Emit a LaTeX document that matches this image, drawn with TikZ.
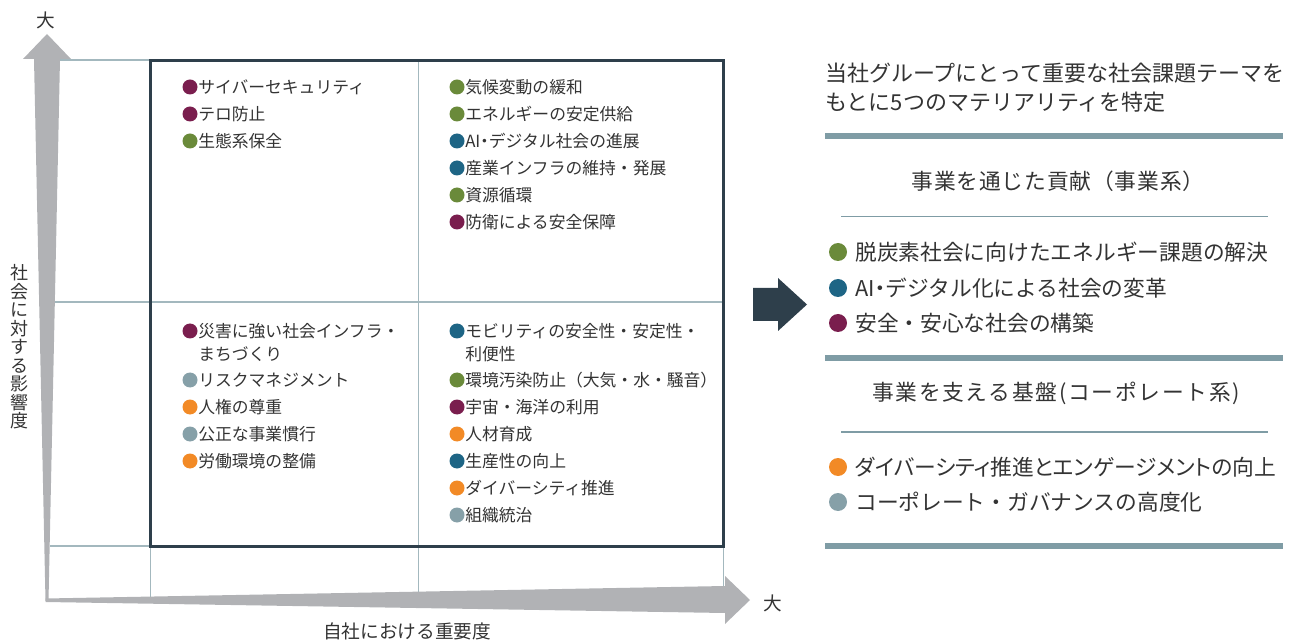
\documentclass[tikz,border=0pt]{standalone}
\usepackage{fontspec}
\setmainfont{Noto Sans CJK JP}
\newfontfamily\paltfont{Noto Sans CJK JP}[RawFeature=+palt]
\definecolor{txt}{HTML}{333333}
\definecolor{arrowgray}{HTML}{B1B2B5}
\definecolor{gridc}{HTML}{A3B8BE}
\definecolor{boxdark}{HTML}{2E3F4B}
\definecolor{cpurple}{HTML}{7A1E4E}
\definecolor{cgreen}{HTML}{6A8A3A}
\definecolor{cblue}{HTML}{1E6585}
\definecolor{corange}{HTML}{F28A26}
\definecolor{cgrayblue}{HTML}{86A0A8}
\definecolor{rulec}{HTML}{7F9CA5}
\newcommand\qitm[5]{%
  \node[qdot,fill=#4] (#1dot) at (#2-8,#3) {};
  \node[qtext] (#1) at (#2,#3) {#5};}
\newcommand\pitm[5]{%
  \node[pdot,fill=#4] (#1dot) at (#2-17,#3) {};
  \node[ptext] (#1) at (#2,#3) {#5};}
\begin{document}
\begin{tikzpicture}[x=0.75pt,y=-0.75pt,
  qtext/.style={anchor=west,inner sep=0pt,align=left,font=\fontsize{12.6}{17.25}\selectfont,text=txt},
  qdot/.style={circle,inner sep=0pt,minimum size=11.25pt},
  ptext/.style={anchor=west,inner sep=0pt,font=\fontsize{16.3}{21.75}\selectfont,text=txt},
  pdot/.style={circle,inner sep=0pt,minimum size=13.5pt},
  subhead/.style={inner sep=0pt,font=\fontsize{16.3}{21.75}\selectfont,text=txt},
  axlabel/.style={inner sep=0pt,font=\fontsize{14}{14}\selectfont,text=txt},
  gridline/.style={draw=gridc,line width=1.1pt},
  thickrule/.style={draw=rulec,line width=3.8pt},
  thinrule/.style={draw=rulec,line width=1.4pt},
  axisarrow/.style={fill=arrowgray,draw=none}]
\useasboundingbox (0,0) rectangle (1295,641);
% grid lines
\draw[gridline] (60,60) -- (150,60);
\draw[gridline] (50,302) -- (723,302);
\draw[gridline] (50,546) -- (723,546);
\draw[gridline] (150.5,546) -- (150.5,598);
\draw[gridline] (418.5,60) -- (418.5,598);
\draw[gridline] (723.5,546) -- (723.5,592);
% axis arrows
\fill[axisarrow] (45.5,601) -- (34,59) -- (23,59) -- (47,34) -- (71,59) -- (60,59) -- (48.5,601) -- cycle;
\fill[axisarrow] (45.5,598.5) -- (725,586) -- (725,576) -- (750,600) -- (725,624) -- (725,613) -- (45.5,602) -- cycle;
% main box
\draw[boxdark,line width=2.25pt] (150.5,60.5) rectangle (723.5,546.5);
% axis labels
\node[axlabel] (ytop) at (46,20) {大};
\node[axlabel] (xright) at (773,603) {大};
\node[axlabel,align=center,font=\fontsize{13.5}{13.9}\selectfont] (ylab) at (19,347) {社\\会\\に\\対\\す\\る\\影\\響\\度};
\node[axlabel] (xlab) at (407,631) {自社における重要度};
% top-left quadrant
\qitm{tla}{198}{87}{cpurple}{サイバーセキュリティ}
\qitm{tlb}{198}{114}{cpurple}{テロ防止}
\qitm{tlc}{198}{141}{cgreen}{生態系保全}
% top-right quadrant
\qitm{tra}{465}{87}{cgreen}{気候変動の緩和}
\qitm{trb}{465}{114}{cgreen}{エネルギーの安定供給}
\qitm{trc}{465}{141}{cblue}{AI{\paltfont ・}デジタル社会の進展}
\qitm{trd}{465}{168}{cblue}{産業インフラの維持・発展}
\qitm{tre}{465}{195}{cgreen}{資源循環}
\qitm{trf}{465}{222}{cpurple}{防衛による安全保障}
% bottom-left quadrant
\node[qdot,fill=cpurple] (blados) at (190,331) {};
\node[qtext] (bla) at (198,342.5) {災害に強い社会インフラ・\\まちづくり};
\qitm{blb}{198}{380}{cgrayblue}{リスクマネジメント}
\qitm{blc}{198}{407}{corange}{人権の尊重}
\qitm{bld}{198}{434}{cgrayblue}{公正な事業慣行}
\qitm{ble}{198}{461}{corange}{労働環境の整備}
% bottom-right quadrant
\node[qdot,fill=cblue] (brados) at (457,331) {};
\node[qtext] (bra) at (465,342.5) {モビリティの安全性・安定性・\\利便性};
\qitm{brb}{465}{380}{cgreen}{環境汚染防止（大気・水・騒音）}
\qitm{brc}{465}{407}{cpurple}{宇宙・海洋の利用}
\qitm{brd}{465}{434}{corange}{人材育成}
\qitm{bre}{465}{461}{cblue}{生産性の向上}
\qitm{brf}{465}{488}{corange}{ダイバーシティ推進}
\qitm{brg}{465}{515}{cgrayblue}{組織統治}
% big arrow
\fill[boxdark] (753,288) -- (778,288) -- (778,278) -- (807,304.5) -- (778,331) -- (778,321) -- (753,321) -- cycle;
% right panel
\node[ptext,align=left,font=\fontsize{16.5}{21.75}\selectfont] (head) at (825,87.5) {当社グループにとって重要な社会課題テーマを\\もとに5つのマテリアリティを特定};
\draw[thickrule] (825,136) -- (1283,136);
\node[subhead,font=\fontsize{16.3}{21.75}\selectfont\addfontfeature{LetterSpace=4}] (suba) at (1058,181) {事業を通じた貢献（事業系）};
\draw[thinrule] (841,216.5) -- (1268,216.5);
\pitm{pa}{855}{252}{cgreen}{脱炭素社会に向けたエネルギー課題の解決}
\pitm{pb}{855}{288}{cblue}{AI{\paltfont ・}デジタル化による社会の変革}
\pitm{pc}{855}{323}{cpurple}{安全・安心な社会の構築}
\draw[thickrule] (825,358) -- (1283,358);
\node[subhead,font=\fontsize{16.3}{21.75}\selectfont\addfontfeature{LetterSpace=8}] (subb) at (1056,393) {事業を支える基盤(コーポレート系)};
\draw[thinrule] (841,432) -- (1268,432);
\pitm{pd}{855}{467}{corange}{\paltfont ダイバーシティ推進とエンゲージメントの向上}
\pitm{pe}{855}{502}{cgrayblue}{コーポレート・ガバナンスの高度化}
\draw[thickrule] (825,546) -- (1283,546);
\end{tikzpicture}
\end{document}
